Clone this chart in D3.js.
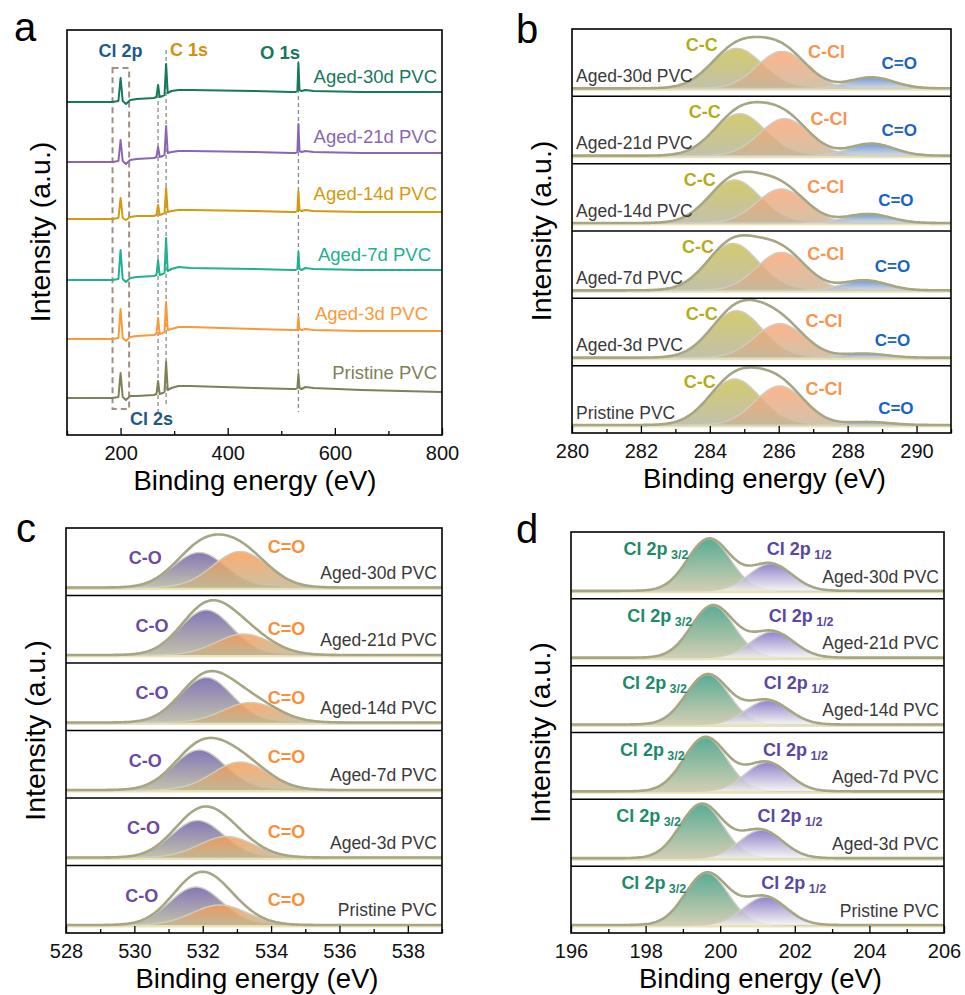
<!DOCTYPE html>
<html>
<head>
<meta charset="utf-8">
<script src="https://cdnjs.cloudflare.com/ajax/libs/d3/7.8.5/d3.min.js"></script>
<style>
body{margin:0;background:#fff}
svg{font-family:"Liberation Sans",Arial,sans-serif}
</style>
</head>
<body>
<svg width="965" height="995"></svg>
<script>
// samples, top to bottom in every panel
const samples = ["Aged-30d PVC","Aged-21d PVC","Aged-14d PVC","Aged-7d PVC","Aged-3d PVC","Pristine PVC"];

// (a) survey spectra: vertices, intensity above each trace's own start
const surveyEnergy = [100,185,196,200,204,210,218,230,262,267,270,273,279,282,285,288,295,308,330,450,520,527,530,532,534,538,545,560,650,800];
const survey30d  = [0,0,1,24,1,-2,2,3,4,5,17,5,6,7,38,9,11,12,12,11,10,10,11,39,12,11,12,11,10,10];
const survey21d  = [0,0,1,22,1,-2,2,3,4,5,15,5,6,7,36,9,10,11,11,10,9,9,10,38,11,10,11,10,9,9];
const survey14d  = [0,0,1,21,1,-1,2,3,3,4,14,4,5,6,31,7,8,9,9,8,7,7,8,28,9,8,9,8,7,7];
const survey7d   = [0,0,1,30,1,-2,2,3,4,5,20,5,6,7,42,9,11,13,12,11,10,10,11,28,11,10,12,11,10,10];
const survey3d   = [0,0,1,30,1,-2,2,3,4,5,21,5,6,7,37,9,10,12,12,10,9,9,9,22,10,9,10,9,8,8];
const surveyPris = [0,0,1,25,1,-2,2,2,3,4,17,4,5,6,36,8,10,12,12,10,9,9,10,24,10,9,11,10,8,6];
const surveyOffset = [333,273,216,155,96,37];
const surveyColor = ["#17785c","#8a66b2","#d39a0e","#22b08e","#f99a3a","#7f7f58"];

// (b) C 1s fit: position (eV), height
const ccPos  = [284.78,284.87,284.72,284.67,284.78,284.72];
const ccH    = [40,42,43,47,47,46];
const cclPos = [286.10,286.17,286.08,286.08,286.03,286.03];
const cclH   = [37,37,34,38,34,39];
const cboPos = [288.7,288.7,288.6,288.5,288.5,288.6];
const cboH   = [11,12,9,10,4,3];

// (c) O 1s fit
const coPos  = [531.9,532.1,532.1,531.9,531.85,531.8];
const coH    = [35,45,45,40,37,38];
const odPos  = [533.1,533.2,533.4,533.1,532.7,532.5];
const odH    = [36,21,20,28,21,20];

// (d) Cl 2p fit
const p3Pos  = [199.7,199.8,199.66,199.6,199.5,199.64];
const p3H    = [52,52,50,54,54,52];
const p1Pos  = [201.35,201.4,201.27,201.25,201.1,201.2];
const p1H    = [27,26,24,29,28,28];

const svg = d3.select("svg");
const defs = svg.append("defs");

const grads = {
  cc:["#c9c04e","#b5b397"], ccl:["#fda473","#c8b596"], cbo:["#4d85d3","#d0d3d4"],
  co:["#6a5aa6","#b4b49a"], od:["#fd9a50","#c2b38e"],
  p3:["#359a7e","#c7c4a1"], p1:["#7a68c0","#f3f3f1"]
};
Object.entries(grads).forEach(([k, c]) => {
  const lg = defs.append("linearGradient").attr("id", "grad-" + k)
    .attr("x1", 0).attr("y1", 0).attr("x2", 0).attr("y2", 1);
  lg.append("stop").attr("offset", "0%").attr("stop-color", c[0]);
  lg.append("stop").attr("offset", "100%").attr("stop-color", c[1]);
});

const gauss = (e, pos, h, w) => h * Math.exp(-4 * Math.LN2 * (e - pos) * (e - pos) / (w * w));

function txt(g, x, y, s, color, anchor, size, bold) {
  return g.append("text").attr("x", x).attr("y", y).attr("fill", color)
    .attr("text-anchor", anchor || "start").attr("font-size", size || 18)
    .attr("font-weight", bold ? "bold" : "normal").text(s);
}

function bottomAxis(x, y, major, minor) {
  svg.append("g").attr("transform", `translate(0,${y})`)
    .call(d3.axisBottom(x).tickValues(minor).tickSize(-4).tickFormat(""))
    .call(a => a.select(".domain").remove());
  svg.append("g").attr("transform", `translate(0,${y})`)
    .call(d3.axisBottom(x).tickValues(major).tickSize(-7).tickPadding(11).tickFormat(d3.format("d")))
    .call(a => a.select(".domain").remove())
    .call(a => a.selectAll("text").attr("font-size", 20).attr("fill", "#111")
      .attr("font-family", "'Liberation Sans',Arial,sans-serif"));
  svg.selectAll(".tick line").attr("stroke", "#000").attr("stroke-width", 1.3);
}

function titles(cx, by, tx, cy) {
  txt(svg, cx, by, "Binding energy (eV)", "#000", "middle", 27.5);
  svg.append("text").attr("transform", `translate(${tx},${cy}) rotate(-90)`)
    .attr("text-anchor", "middle").attr("font-size", 28.5).attr("fill", "#000")
    .text("Intensity (a.u.)");
}

// ---------- panel a ----------
const xA = d3.scaleLinear().domain([100, 800]).range([67, 442]);
const yA = d3.scaleLinear().domain([0, 405]).range([435, 30]);
const surveys = [survey30d, survey21d, survey14d, survey7d, survey3d, surveyPris];

// dashed markers
const dash = svg.append("g").attr("fill", "none");
dash.append("rect").attr("x", xA(185)).attr("y", yA(367))
  .attr("width", xA(216) - xA(185)).attr("height", yA(26) - yA(367))
  .attr("stroke", "#a28e82").attr("stroke-width", 2).attr("stroke-dasharray", "6,4");
[[270, 348, 23], [285, 385, 28], [532, 381, 23]].forEach(([e, t, b]) => {
  dash.append("line").attr("x1", xA(e)).attr("x2", xA(e)).attr("y1", yA(t)).attr("y2", yA(b))
    .attr("stroke", "#8a8a8a").attr("stroke-width", 1.3).attr("stroke-dasharray", "4,3");
});

const lineA = d3.line().x(d => xA(d[0])).y(d => yA(d[1]));
surveys.forEach((s, i) => {
  const pts = surveyEnergy.map((e, j) => [e, surveyOffset[i] + s[j]]);
  svg.append("path").attr("d", lineA(pts)).attr("fill", "none")
    .attr("stroke", surveyColor[i]).attr("stroke-width", 2).attr("stroke-linejoin", "round");
  txt(svg, i === 3 ? 431 : i === 4 ? 428 : 437, yA(surveyOffset[i]) - 19, samples[i], surveyColor[i], "end", 18.5);
});
txt(svg, xA(200), 57, "Cl 2p", "#1d5a8a", "middle", 18, true);
txt(svg, 170, 56, "C 1s", "#d4900c", "start", 18, true);
txt(svg, 300, 59, "O 1s", "#17785e", "end", 18.5, true);
txt(svg, 130, 425, "Cl 2s", "#1d5a8a", "start", 18, true);

svg.append("rect").attr("x", 67).attr("y", 30).attr("width", 375).attr("height", 405)
  .attr("fill", "none").attr("stroke", "#000").attr("stroke-width", 1.6);
bottomAxis(xA, 435, [200, 400, 600, 800], [100, 300, 500, 700]);
titles(255, 490, 50, 232);

// ---------- stacked fit panels ----------
function stackPanel(o) {
  const g = svg.append("g");
  const x = d3.scaleLinear().domain(o.domain).range([o.x0, o.x1]);
  const n = samples.length, bh = (o.y1 - o.y0) / n;
  const grid = d3.range(o.domain[0], o.domain[1] + 1e-6, 0.04);
  samples.forEach((name, i) => {
    const top = o.y0 + i * bh;
    const y = d3.scaleLinear().domain([0, 60]).range([top + bh - 8, top + bh - 68]);
    const cid = o.id + "-clip" + i;
    defs.append("clipPath").attr("id", cid).append("rect")
      .attr("x", o.x0).attr("y", top).attr("width", o.x1 - o.x0).attr("height", bh);
    const sg = g.append("g").attr("clip-path", `url(#${cid})`);
    const area = d3.area().x(d => x(d[0])).y0(y(0)).y1(d => y(d[1]));
    const line = d3.line().x(d => x(d[0])).y(d => y(d[1]));
    const comps = o.peaks.map(p => grid.map(e => [e, gauss(e, p.pos[i], p.h[i], p.fwhm)]));
    sg.append("line").attr("x1", o.x0).attr("x2", o.x1).attr("y1", y(0) + 1).attr("y2", y(0) + 1)
      .attr("stroke", "#ebe3b6").attr("stroke-width", 3);
    comps.forEach((c, k) => {
      sg.append("path").attr("d", area(c)).attr("fill", `url(#grad-${o.peaks[k].key})`)
        .attr("fill-opacity", 0.82);
      sg.append("path").attr("d", line(c)).attr("fill", "none")
        .attr("stroke", "#cdcdc2").attr("stroke-width", 1.4);
    });
    const env = grid.map((e, j) => [e, d3.sum(comps, c => c[j][1])]);
    sg.append("path").attr("d", line(env)).attr("fill", "none")
      .attr("stroke", "#a6a684").attr("stroke-width", 2.6).attr("stroke-linejoin", "round");
    o.labels(g, x, y, i, top);
    if (o.nameLeft) txt(g, o.x0 + 4, top + 53, name, "#3a3a3a", "start", 17.5);
    else txt(g, o.x1 - 5, top + 50.5, name, "#3a3a3a", "end", 17.5);
    if (i > 0) g.append("line").attr("x1", o.x0).attr("x2", o.x1).attr("y1", top).attr("y2", top)
      .attr("stroke", "#000").attr("stroke-width", 1.5);
  });
  g.append("rect").attr("x", o.x0).attr("y", o.y0).attr("width", o.x1 - o.x0).attr("height", o.y1 - o.y0)
    .attr("fill", "none").attr("stroke", "#000").attr("stroke-width", 1.6);
  bottomAxis(x, o.y1, o.major, o.minor);
  titles((o.x0 + o.x1) / 2 + 3, o.y1 + 55, o.x0 - 21, (o.y0 + o.y1) / 2);
}

// panel b
stackPanel({
  id: "b", domain: [280, 291], x0: 572, x1: 951, y0: 29, y1: 433, nameLeft: true,
  major: [280, 282, 284, 286, 288, 290], minor: [281, 283, 285, 287, 289, 291],
  peaks: [
    {key: "cc", pos: ccPos, h: ccH, fwhm: 1.75},
    {key: "ccl", pos: cclPos, h: cclH, fwhm: 1.7},
    {key: "cbo", pos: cboPos, h: cboH, fwhm: 1.5}
  ],
  labels: (g, x, y, i, top) => {
    txt(g, x(ccPos[i] - 0.55), top + 22, "C-C", "#b3ac1a", "end", 18, true);
    txt(g, x(cclPos[i] + 0.75), top + 29, "C-Cl", "#f79450", "start", 18, true);
    txt(g, x(cboPos[i] + 0.8), y(cboH[i]) - 8, "C=O", "#1b63bd", "middle", 17, true);
  }
});

// panel c
stackPanel({
  id: "c", domain: [528, 539], x0: 66, x1: 442, y0: 528, y1: 933,
  major: [528, 530, 532, 534, 536, 538], minor: [529, 531, 533, 535, 537, 539],
  peaks: [
    {key: "co", pos: coPos, h: coH, fwhm: 1.8},
    {key: "od", pos: odPos, h: odH, fwhm: 1.9}
  ],
  labels: (g, x, y, i, top) => {
    txt(g, x(coPos[i] - 1.1), top + 36, "C-O", "#6a4aa2", "end", 18, true);
    txt(g, x(533.9), y(odH[i]) + 1, "C=O", "#f98f3a", "start", 18, true);
  }
});

// panel d
stackPanel({
  id: "d", domain: [196, 206], x0: 571, x1: 944, y0: 532, y1: 933,
  major: [196, 198, 200, 202, 204, 206], minor: [197, 199, 201, 203, 205],
  peaks: [
    {key: "p3", pos: p3Pos, h: p3H, fwhm: 1.35},
    {key: "p1", pos: p1Pos, h: p1H, fwhm: 1.35}
  ],
  labels: (g, x, y, i, top) => {
    const a = txt(g, x(p3Pos[i] - 0.55), top + 23, "Cl 2p", "#1d8a6c", "end", 18, true);
    a.append("tspan").attr("font-size", 12.5).attr("dy", 4).text(" 3/2");
    const b = txt(g, x(p1Pos[i] - 0.1), top + 23, "Cl 2p", "#5a47a0", "start", 18, true);
    b.append("tspan").attr("font-size", 12.5).attr("dy", 4).text(" 1/2");
  }
});

// panel letters
txt(svg, 14, 41, "a", "#000", "start", 40);
txt(svg, 516, 43, "b", "#000", "start", 40);
txt(svg, 16, 542, "c", "#000", "start", 40);
txt(svg, 516, 543, "d", "#000", "start", 40);
</script>
</body>
</html>
